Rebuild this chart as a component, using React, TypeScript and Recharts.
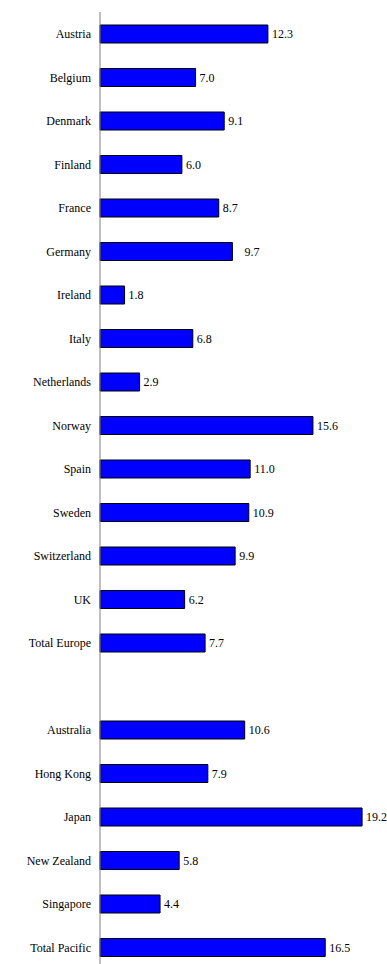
import { BarChart, Bar, XAxis, YAxis, LabelList } from "recharts";

const countries = [
  "Austria", "Belgium", "Denmark", "Finland", "France", "Germany", "Ireland",
  "Italy", "Netherlands", "Norway", "Spain", "Sweden", "Switzerland", "UK",
  "Total Europe", "", "Australia", "Hong Kong", "Japan", "New Zealand",
  "Singapore", "Total Pacific",
];

const values: (number | null)[] = [
  12.3, 7.0, 9.1, 6.0, 8.7, 9.7, 1.8,
  6.8, 2.9, 15.6, 11.0, 10.9, 9.9, 6.2,
  7.7, null, 10.6, 7.9, 19.2, 5.8,
  4.4, 16.5,
];

const data = countries.map((name, i) => ({ name, value: values[i] }));

const FONT = "'Liberation Serif', 'DejaVu Serif', serif";

// the source chart pushes this one label a little further out
const pushedLabels = ["Germany"];

const renderLabel = (props: any) => {
  const { x, y, width, height, value, index } = props;
  if (value == null) return null;
  const extra = pushedLabels.includes(countries[index]) ? 8 : 0;
  return (
    <text
      x={Number(x) + Number(width) + 4 + extra}
      y={Number(y) + Number(height) / 2}
      dominantBaseline="central"
      fontSize={12}
      fontFamily={FONT}
      fill="#000"
    >
      {Number(value).toFixed(1)}
    </text>
  );
};

const App = () => {
  return (
    <div
      style={{
        position: "fixed",
        left: 0,
        top: 0,
        width: 387,
        height: 964,
        overflow: "hidden",
        background: "#fff",
        fontFamily: FONT,
      }}
    >
      <BarChart
        width={387}
        height={970}
        data={data}
        layout="vertical"
        margin={{ top: 12, right: 14, bottom: 1, left: 0 }}
      >
        <XAxis type="number" domain={[0, 20]} hide />
        <YAxis
          type="category"
          dataKey="name"
          width={100}
          tickLine={false}
          tickMargin={3}
          axisLine={{ stroke: "#808080", strokeWidth: 1 }}
          tick={{ fill: "#000", fontSize: 12, fontFamily: FONT }}
          interval={0}
        />
        <Bar dataKey="value" barSize={18} fill="#0000FF" stroke="#000" strokeWidth={1} isAnimationActive={false}>
          <LabelList dataKey="value" content={renderLabel} />
        </Bar>
      </BarChart>
    </div>
  );
};

export default App;
